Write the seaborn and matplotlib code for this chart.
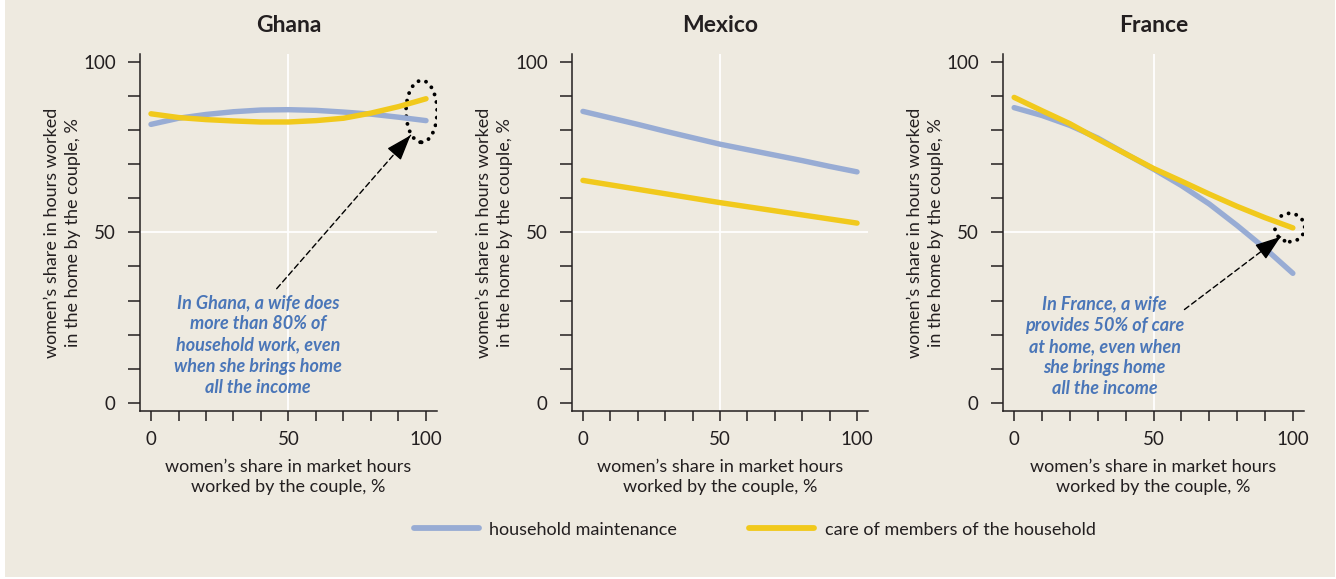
import pandas as pd
import seaborn as sns
import matplotlib.pyplot as plt
from matplotlib.patches import Ellipse, Rectangle

# women's share in market hours (x) and share in home hours (y)
x_share = [0, 10, 20, 30, 40, 50, 60, 70, 80, 90, 100]

ghana_maintenance = [81.6, 83.4, 84.5, 85.3, 85.8, 85.9, 85.7, 85.2, 84.6, 83.7, 82.7]
ghana_care = [84.7, 83.6, 83.0, 82.6, 82.3, 82.3, 82.7, 83.4, 84.9, 86.8, 89.1]
mexico_maintenance = [85.4, 83.5, 81.6, 79.6, 77.7, 75.8, 74.2, 72.6, 71.0, 69.3, 67.7]
mexico_care = [65.2, 63.9, 62.6, 61.3, 60.0, 58.7, 57.5, 56.3, 55.1, 53.9, 52.7]
france_maintenance = [86.5, 84.2, 81.3, 77.6, 73.0, 68.5, 63.7, 58.3, 52.0, 45.3, 38.0]
france_care = [89.5, 85.6, 81.8, 77.3, 73.0, 68.7, 65.0, 61.2, 57.6, 54.3, 51.3]

countries = ["Ghana", "Mexico", "France"]
series_names = ["household maintenance", "care of members of the household"]
values = {
    ("Ghana", series_names[0]): ghana_maintenance,
    ("Ghana", series_names[1]): ghana_care,
    ("Mexico", series_names[0]): mexico_maintenance,
    ("Mexico", series_names[1]): mexico_care,
    ("France", series_names[0]): france_maintenance,
    ("France", series_names[1]): france_care,
}

rows = []
for (country, series), ys in values.items():
    for x, y in zip(x_share, ys):
        rows.append({"country": country, "series": series, "x": x, "share": y})
df = pd.DataFrame(rows)

BG = "#EEEAE0"
BLUE = "#98ACD4"
YELLOW = "#F1C91C"
DARK = "#231F20"
NOTE = "#4A76B8"

sns.set_style("ticks")
plt.rcParams["font.family"] = ["Lato", "DejaVu Sans"]
plt.rcParams["text.color"] = DARK
plt.rcParams["axes.labelcolor"] = DARK
plt.rcParams["xtick.color"] = DARK
plt.rcParams["ytick.color"] = DARK

fig = plt.figure(figsize=(13.36, 5.79), dpi=100, facecolor="white")
fig.add_artist(Rectangle((5 / 1336, 2 / 579), 1 - 6 / 1336, 1 - 2 / 579,
                         transform=fig.transFigure, facecolor=BG,
                         edgecolor="none", zorder=-10))

# axes boxes in pixels: left, right
boxes = [(140, 437), (572, 868), (1003, 1304)]
top_px, bottom_px = 54, 411

axes = []
for country, (l, r) in zip(countries, boxes):
    ax = fig.add_axes([l / 1336, (579 - bottom_px) / 579, (r - l) / 1336,
                       (bottom_px - top_px) / 579])
    ax.set_facecolor(BG)
    ax.axvline(50, color="white", lw=1.3, zorder=0)
    ax.axhline(50, color="white", lw=1.3, zorder=0)
    sns.lineplot(data=df[df.country == country], x="x", y="share",
                 hue="series", hue_order=series_names,
                 palette=[BLUE, YELLOW], linewidth=3.9, ax=ax)
    ax.set_xlim(-4, 104)
    ax.set_ylim(-2.3, 102.2)
    ax.set_xticks([0, 50, 100])
    ax.set_xticks(range(0, 101, 10), minor=True)
    ax.set_yticks([0, 50, 100])
    ax.set_yticks(range(0, 101, 10), minor=True)
    ax.tick_params(which="both", direction="out", width=1.1, color=DARK)
    ax.tick_params(axis="x", which="both", length=7.5, pad=7, labelsize=13.5)
    ax.tick_params(axis="y", which="both", length=8.5, pad=9, labelsize=13.5)
    for side in ["top", "right"]:
        ax.spines[side].set_visible(False)
    for side in ["left", "bottom"]:
        ax.spines[side].set_color(DARK)
        ax.spines[side].set_linewidth(1.1)
    ax.set_xlabel("women\u2019s share in market hours\nworked by the couple, %",
                  fontsize=13, labelpad=8, linespacing=1.3)
    ax.set_ylabel("women\u2019s share in hours worked\nin the home by the couple, %",
                  fontsize=13, labelpad=1.5, linespacing=1.4)
    ax.set_title(country, fontsize=16.5, fontweight="bold", pad=16)
    axes.append(ax)

handles, labels = axes[0].get_legend_handles_labels()
for ax in axes:
    ax.get_legend().remove()

fig.legend(handles, labels, ncol=2, loc="center", bbox_to_anchor=(0.565, 0.085),
           frameon=False, fontsize=13, handlelength=3.6, handletextpad=0.6,
           columnspacing=4.0)
for h in fig.legends[0].legend_handles:
    h.set_linewidth(4.2)

# annotations
def callout(ax, text, text_xy, tail, tip, ell_xy, ell_w, ell_h):
    ax.text(text_xy[0], text_xy[1], text, ha="center", va="center",
            fontsize=13, fontstyle="italic", fontweight="bold", color=NOTE,
            linespacing=1.3)
    ax.annotate("", xy=tip, xytext=tail,
                arrowprops=dict(arrowstyle="-", color="black", lw=1.0,
                                linestyle=(0, (4, 2.5)), shrinkA=0, shrinkB=0))
    dx, dy = tip[0] - tail[0], tip[1] - tail[1]
    ax.annotate("", xy=tip, xytext=(tip[0] - dx * 0.12, tip[1] - dy * 0.12),
                arrowprops=dict(arrowstyle="-|>,head_length=0.8,head_width=0.28",
                                color="black", lw=1.0, mutation_scale=20,
                                shrinkA=0, shrinkB=0))
    ax.add_patch(Ellipse(ell_xy, ell_w, ell_h, fill=False, edgecolor="black",
                         lw=2.8, linestyle=(0, (0.01, 2.0)), capstyle="round"))

callout(axes[0],
        "In Ghana, a wife does\nmore than 80% of\nhousehold work, even\nwhen she brings home\nall the income",
        (39, 17), (45.7, 33.5), (94.4, 78.4), (98.4, 85.4), 11.3, 18.1)
callout(axes[2],
        "In France, a wife\nprovides 50% of care\nat home, even when\nshe brings home\nall the income",
        (32.5, 16.6), (61.1, 27.4), (95.6, 48.7), (98.9, 51.4), 10.7, 8.3)

fig.savefig("out.png", dpi=100, facecolor=fig.get_facecolor())
